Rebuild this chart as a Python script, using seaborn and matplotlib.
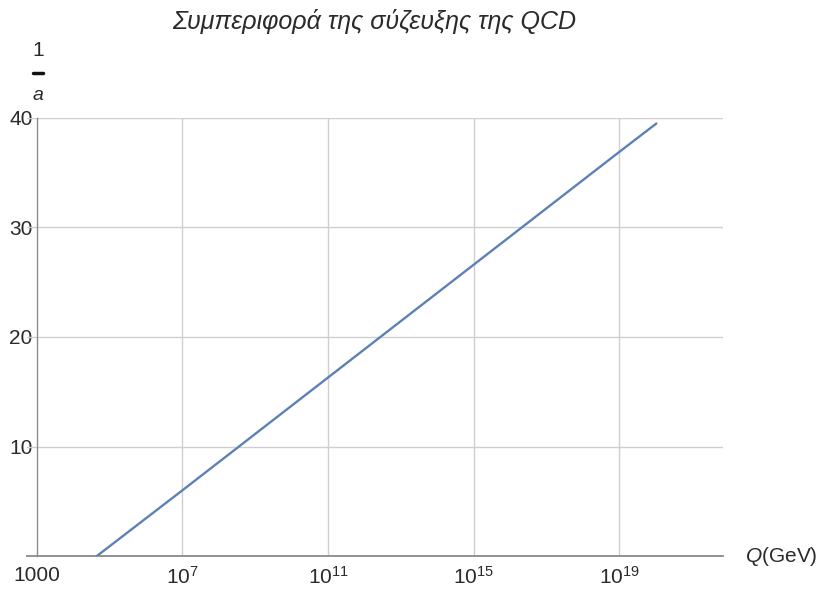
import numpy as np
import pandas as pd
import matplotlib
matplotlib.use("Agg")
import matplotlib.pyplot as plt
from matplotlib.lines import Line2D
from matplotlib.ticker import FixedLocator, FixedFormatter, NullFormatter
import seaborn as sns

# Inverse QCD coupling versus energy scale (log10 of Q in GeV)
log_q = [4.65, 7.0, 11.0, 15.0, 19.0, 20.02]
inv_alpha = [0.0, 6.0, 16.3, 26.6, 36.9, 39.5]

x_major = [1e3, 1e7, 1e11, 1e15, 1e19]
x_major_labels = ["1000", r"$10^{7}$", r"$10^{11}$", r"$10^{15}$", r"$10^{19}$"]
x_minor = [1e13, 1e21]
y_major = [10, 20, 30, 40]
y_minor = [6, 12, 16, 22, 26, 28, 32, 34, 38]

title = "Συμπεριφορά της σύζευξης της QCD"

sns.set_style("white")
plt.rcParams["font.family"] = ["Liberation Sans", "DejaVu Sans"]
plt.rcParams["mathtext.fontset"] = "custom"
plt.rcParams["mathtext.rm"] = "Liberation Sans"
plt.rcParams["mathtext.it"] = "Liberation Sans:italic"

W, H = 823, 594
fig = plt.figure(figsize=(W / 100, H / 100), dpi=100)
fig.patch.set_facecolor("white")

x0, x1 = 27, 723
y_bot, y_top = 556, 118
ax = fig.add_axes([x0 / W, (H - y_bot) / H, (x1 - x0) / W, (y_bot - y_top) / H])

df = pd.DataFrame({"Q": np.power(10.0, log_q), "inv_alpha": inv_alpha})
sns.lineplot(data=df, x="Q", y="inv_alpha", ax=ax, color="#5E81B5",
             linewidth=1.7, zorder=3)

ax.set_xscale("log")
ax.set_xlim(10 ** 2.73, 10 ** 21.85)
ax.set_ylim(0, 40)

grid_c = "#cfcfcf"
for v in x_major[1:]:
    ax.axvline(v, color=grid_c, lw=1.0, zorder=1)
for v in y_major:
    ax.axhline(v, color=grid_c, lw=1.0, zorder=1)

axis_c = "#8a8a8a"
text_c = "#2a2a2a"
for s in ["top", "right"]:
    ax.spines[s].set_visible(False)
ax.spines["left"].set_position(("data", 1e3))
ax.spines["left"].set_color(axis_c)
ax.spines["bottom"].set_color(axis_c)
ax.spines["left"].set_linewidth(1.0)
ax.spines["bottom"].set_linewidth(1.3)

ax.xaxis.set_major_locator(FixedLocator(x_major))
ax.xaxis.set_major_formatter(FixedFormatter(x_major_labels))
ax.xaxis.set_minor_locator(FixedLocator(x_minor))
ax.xaxis.set_minor_formatter(NullFormatter())
ax.yaxis.set_major_locator(FixedLocator(y_major))
ax.yaxis.set_minor_locator(FixedLocator(y_minor))
ax.yaxis.set_minor_formatter(NullFormatter())

ax.tick_params(axis="both", which="major", direction="in", length=5,
               width=1.0, color=axis_c, labelsize=15, labelcolor=text_c)
ax.tick_params(axis="both", which="minor", direction="in", length=3,
               width=1.0, color=axis_c)
ax.tick_params(axis="x", which="major", pad=7)
ax.tick_params(axis="y", which="major", pad=3)
ax.set_xlabel("")
ax.set_ylabel("")
ax.grid(False)

# axis labels in Mathematica style
fig.text(745 / W, 1 - 556 / H, r"$\mathit{Q}$(GeV)", fontsize=15,
         color=text_c, ha="left", va="center")
fig.text(38 / W, 1 - 50 / H, "1", fontsize=15, color=text_c,
         ha="center", va="center")
fig.add_artist(Line2D([33 / W, 43 / W], [1 - 73 / H, 1 - 73 / H],
                      color="#111111", lw=2.5, transform=fig.transFigure))
fig.text(38 / W, 1 - 95 / H, "a", fontsize=14, style="italic",
         color=text_c, ha="center", va="center")

fig.text(374 / W, 1 - 22 / H, title, fontsize=18, style="italic",
         color=text_c, ha="center", va="center")

fig.savefig("out.png", dpi=100, facecolor="white")
